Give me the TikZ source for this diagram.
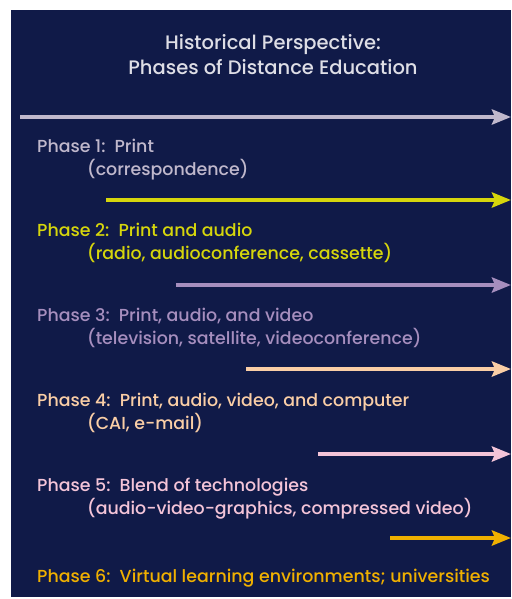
\documentclass[tikz,border=0pt]{standalone}
\usepackage{fontspec}
\setmainfont{Poppins}[UprightFont={* Medium}]
\usetikzlibrary{arrows.meta}
\usetikzlibrary{positioning}

\definecolor{navybg}{RGB}{16,26,72}
\definecolor{titlegray}{RGB}{222,222,230}
\definecolor{phasegray}{RGB}{192,184,204}
\definecolor{phaseyellow}{RGB}{214,214,12}
\definecolor{phasepurple}{RGB}{166,142,190}
\definecolor{phasepeach}{RGB}{250,206,166}
\definecolor{phasepink}{RGB}{244,196,216}
\definecolor{phaseorange}{RGB}{240,176,0}

\begin{document}
\begin{tikzpicture}[x=1pt, y=-1pt,
    heading/.style={anchor=base, inner sep=0pt, text=titlegray, font=\fontsize{19.5}{23}\selectfont},
    phase/.style={anchor=base west, inner sep=0pt, font=\fontsize{17.4}{21}\selectfont},
    timeline/.style={line width=4pt, -{Stealth[length=19pt, width=15pt, inset=3pt]}}]

        % Page and dark panel
        \useasboundingbox (0, 0) rectangle (511, 599);
        \fill[navybg] (11, 10) rectangle (511, 597);

        % Title
        \node[heading] (title1) at (273, 50) {Historical Perspective:};
        \node[heading] (title2) at (273, 75) {Phases of Distance Education};

        % Right end of every arrow
        \def\xend{511}

        % Arrows: name / start x / height / colour
        \foreach \n/\xs/\y/\c in {p1/20/117/phasegray, p2/106/200/phaseyellow,
                                  p3/176/285/phasepurple, p4/246/369/phasepeach,
                                  p5/318/454/phasepink, p6/390/538/phaseorange} {
          \coordinate (\n s) at (\xs, \y);
          \coordinate (\n e) at (\xend, \y);
          \draw[timeline, \c] (\n s) -- (\n e);
        }

        % Phase labels
        \node[phase, text=phasegray] (ph1) at (37, 152) {Phase 1:\ \ Print};
        \node[phase, text=phasegray] (ph1x) at (87, 175) {(correspondence)};

        \node[phase, text=phaseyellow] (ph2) at (37, 236) {Phase 2:\ \ Print and audio};
        \node[phase, text=phaseyellow] (ph2x) at (87, 259) {(radio, audioconference, cassette)};

        \node[phase, text=phasepurple] (ph3) at (37, 321) {Phase 3:\ \ Print, audio, and video};
        \node[phase, text=phasepurple] (ph3x) at (87, 344) {(television, satellite, videoconference)};

        \node[phase, text=phasepeach] (ph4) at (37, 406) {Phase 4:\ \ Print, audio, video, and computer};
        \node[phase, text=phasepeach] (ph4x) at (87, 429) {(CAI, e-mail)};

        \node[phase, text=phasepink] (ph5) at (37, 491) {Phase 5:\ \ Blend of technologies};
        \node[phase, text=phasepink] (ph5x) at (87, 514) {(audio-video-graphics, compressed video)};

        \node[phase, text=phaseorange] (ph6) at (37, 582) {Phase 6:\ \ Virtual learning environments; universities};

      \end{tikzpicture}
\end{document}
